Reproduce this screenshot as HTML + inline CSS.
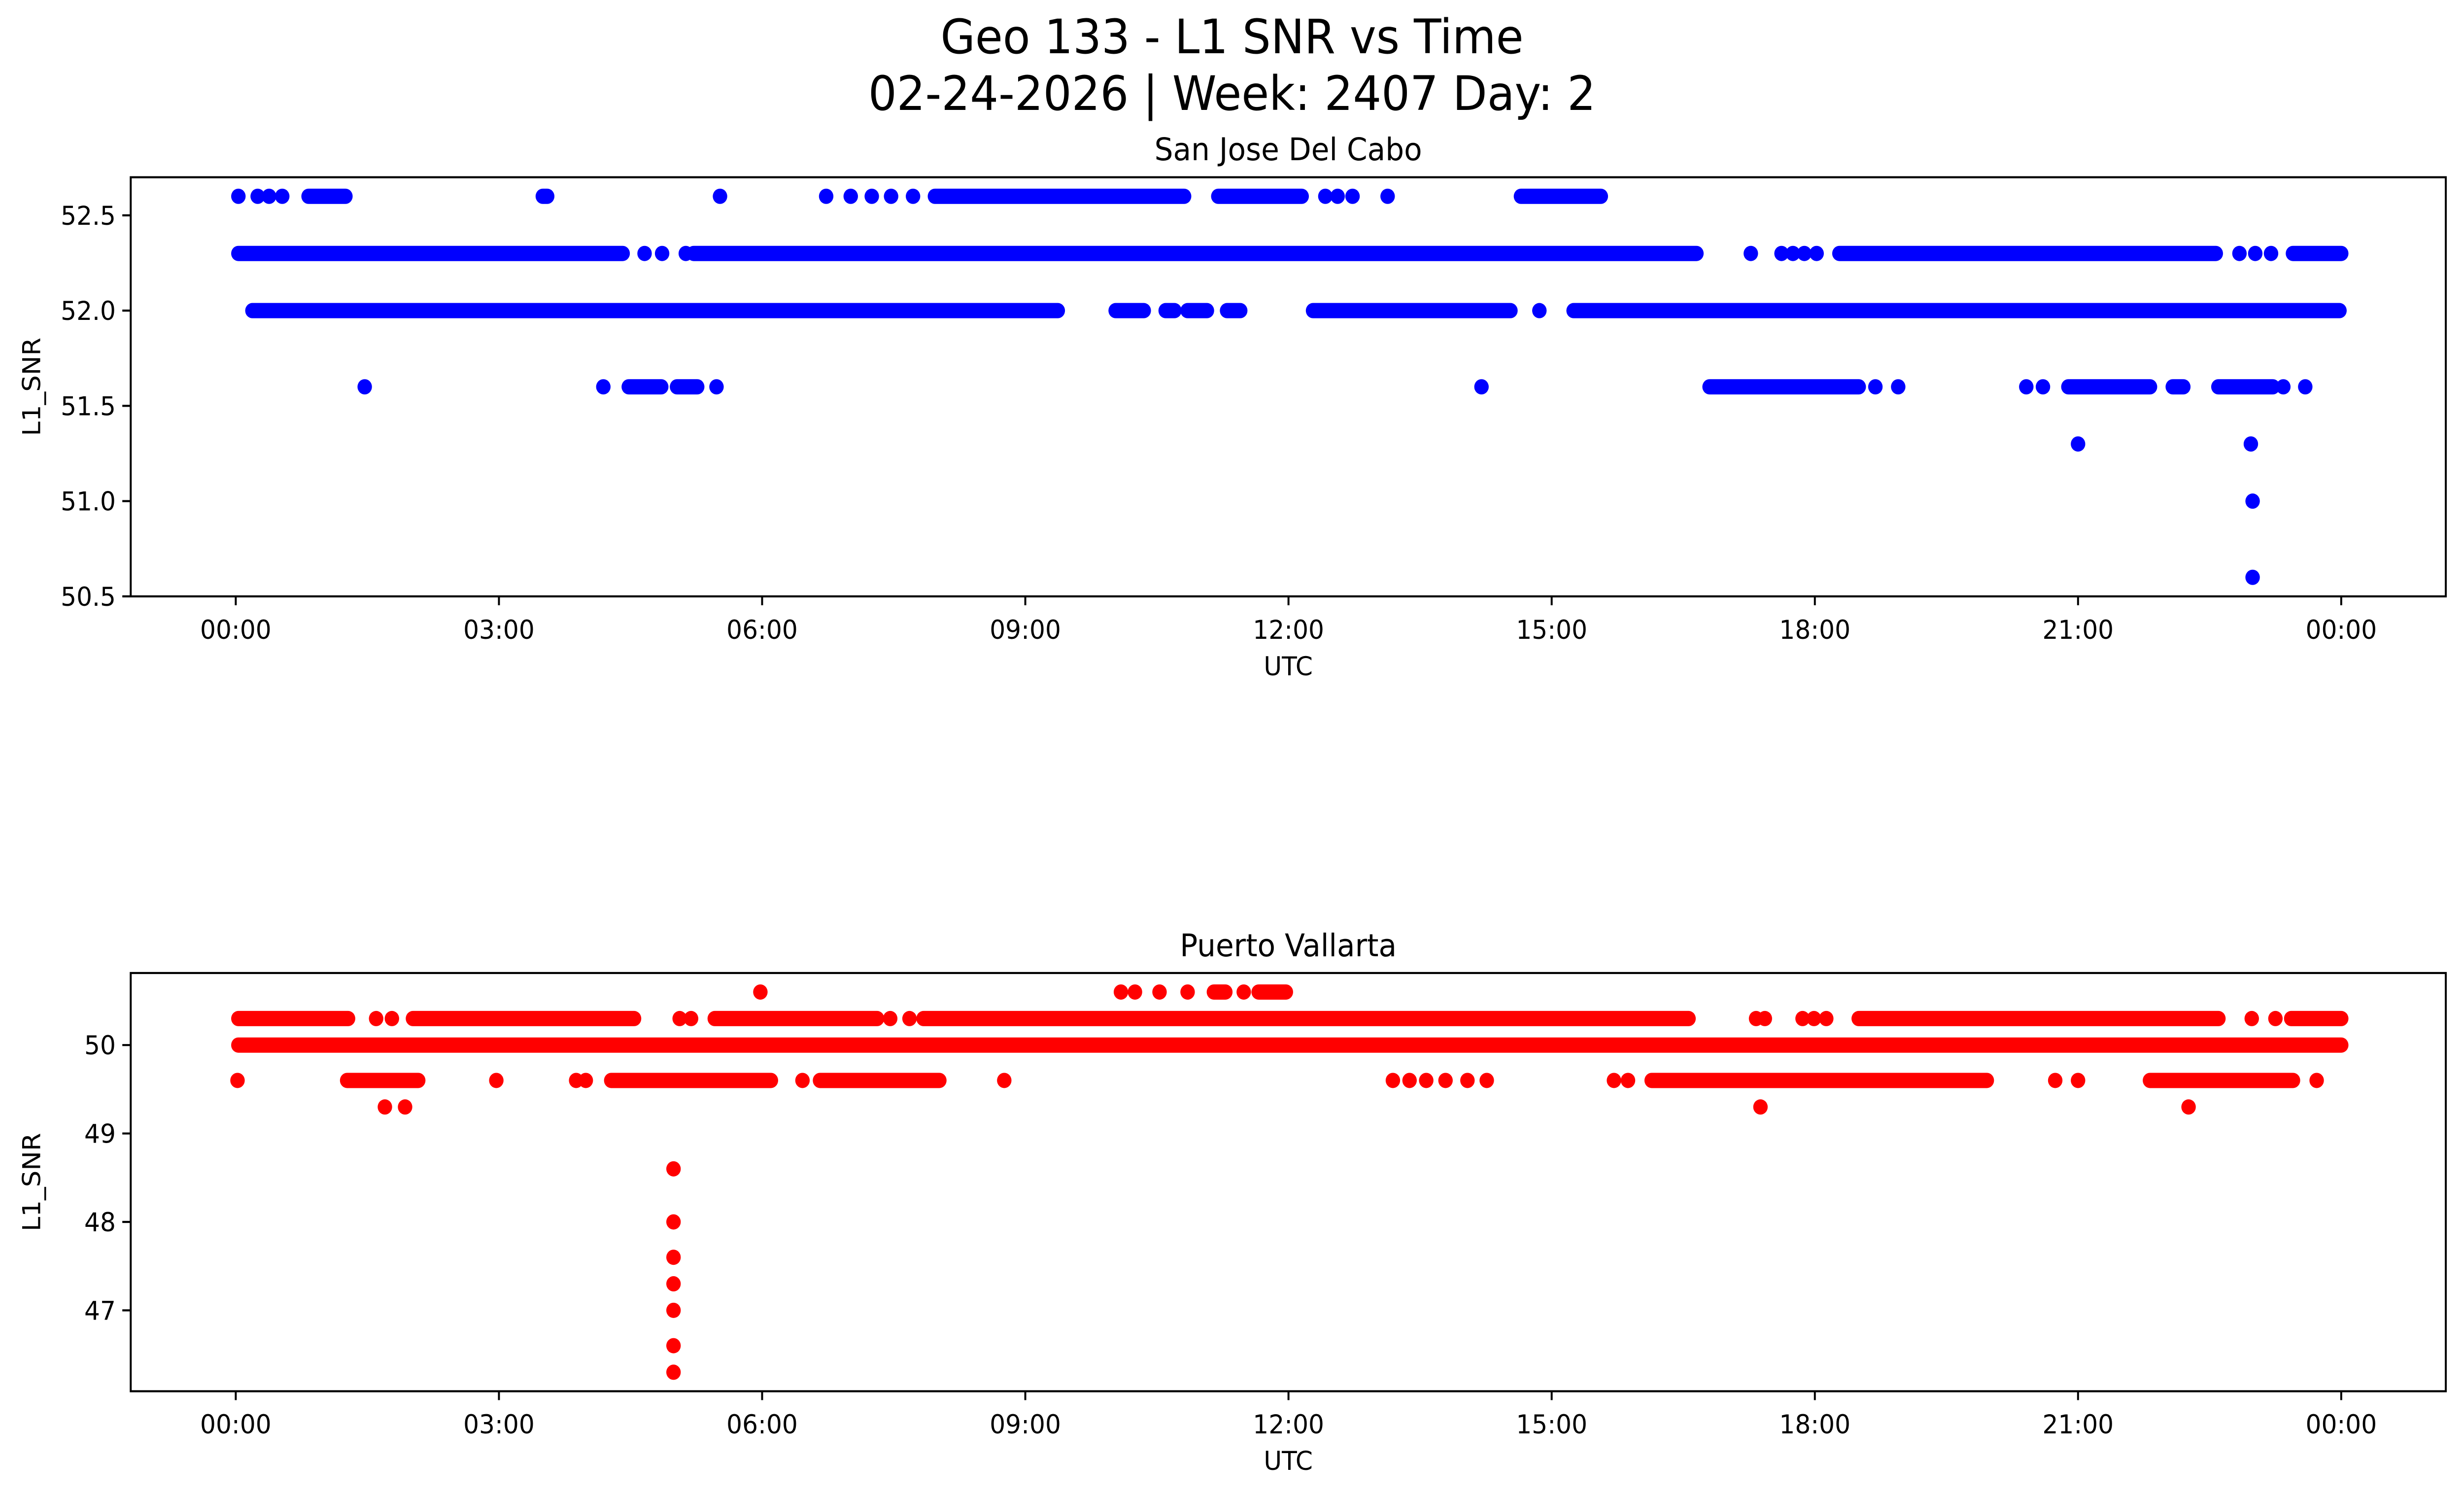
<!DOCTYPE html>
<html><head><meta charset="utf-8"><style>
html,body{margin:0;padding:0;background:#fff;overflow:hidden;width:100%;height:100%}
svg{display:block;position:fixed;left:0;top:0;width:100vw;height:100vh}
text{font-family:"DejaVu Sans","Liberation Sans",sans-serif;fill:#000}
</style></head><body>
<svg id="fig" viewBox="0 0 5278 3033" preserveAspectRatio="none" xmlns="http://www.w3.org/2000/svg">
<rect width="5278" height="3033" fill="#fff"/>
<text x="2639" y="108" font-size="96" text-anchor="middle">Geo 133 - L1 SNR vs Time</text>
<text x="2639" y="223" font-size="96" text-anchor="middle">02-24-2026 | Week: 2407 Day: 2</text>
<g id="top"></g>
<g id="bot"></g>
</svg>
<script>
const xTickLabels = ["00:00","03:00","06:00","09:00","12:00","15:00","18:00","21:00","00:00"];
const xTickHours = [0,3,6,9,12,15,18,21,24];

const topLevels = [52.6, 52.3, 52.0, 51.6, 51.3, 51.0, 50.6];
const topRuns = [
  [[0.03,0.03],[0.25,0.25],[0.38,0.38],[0.53,0.53],[0.83,1.25],[3.5,3.55],[5.52,5.52],[6.73,6.73],[7.01,7.01],[7.25,7.25],[7.47,7.47],[7.72,7.72],[7.97,10.81],[11.2,12.15],[12.42,12.42],[12.56,12.56],[12.73,12.73],[13.13,13.13],[14.65,15.56]],
  [[0.03,4.41],[4.66,4.66],[4.86,4.86],[5.13,5.13],[5.22,16.65],[17.27,17.27],[17.62,17.62],[17.75,17.75],[17.88,17.88],[18.02,18.02],[18.28,22.57],[22.84,22.84],[23.02,23.02],[23.2,23.2],[23.45,24.0]],
  [[0.19,9.37],[10.03,10.35],[10.6,10.7],[10.85,11.07],[11.3,11.45],[12.28,14.53],[14.86,14.86],[15.25,23.98]],
  [[1.47,1.47],[4.19,4.19],[4.48,4.85],[5.03,5.26],[5.48,5.48],[14.2,14.2],[16.8,18.5],[18.69,18.69],[18.95,18.95],[20.41,20.41],[20.6,20.6],[20.89,21.82],[22.08,22.2],[22.6,23.22],[23.34,23.34],[23.59,23.59]],
  [[21.0,21.0],[22.97,22.97]],
  [[22.99,22.99]],
  [[22.99,22.99]]
];
const topYTicks = [50.5, 51.0, 51.5, 52.0, 52.5];
const topYTickLabels = ["50.5","51.0","51.5","52.0","52.5"];

const botLevels = [50.6, 50.3, 50.0, 49.6, 49.3, 48.6, 48.0, 47.6, 47.3, 47.0, 46.6, 46.3];
const botRuns = [
  [[5.98,5.98],[10.09,10.09],[10.25,10.25],[10.53,10.53],[10.85,10.85],[11.15,11.28],[11.49,11.49],[11.66,11.97]],
  [[0.03,1.28],[1.6,1.6],[1.78,1.78],[2.02,4.54],[5.06,5.06],[5.19,5.19],[5.46,7.31],[7.46,7.46],[7.68,7.68],[7.84,16.56],[17.33,17.33],[17.43,17.43],[17.86,17.86],[17.99,17.99],[18.13,18.13],[18.5,22.6],[22.98,22.98],[23.25,23.25],[23.43,24.0]],
  [[0.03,24.0]],
  [[0.02,0.02],[1.27,2.08],[2.97,2.97],[3.88,3.88],[3.99,3.99],[4.28,6.1],[6.46,6.46],[6.66,8.02],[8.76,8.76],[13.19,13.19],[13.38,13.38],[13.57,13.57],[13.79,13.79],[14.04,14.04],[14.26,14.26],[15.71,15.71],[15.87,15.87],[16.14,19.96],[20.74,20.74],[21.0,21.0],[21.82,23.45],[23.72,23.72]],
  [[1.7,1.7],[1.93,1.93],[17.38,17.38],[22.26,22.26]],
  [[4.99,4.99]],[[4.99,4.99]],[[4.99,4.99]],[[4.99,4.99]],[[4.99,4.99]],[[4.99,4.99]],[[4.99,4.99]]
];
const botYTicks = [47, 48, 49, 50];
const botYTickLabels = ["47","48","49","50"];

const NS = "http://www.w3.org/2000/svg";
function mk(tag, attrs, parent){
  const e = document.createElementNS(NS, tag);
  for (const k in attrs) e.setAttribute(k, attrs[k]);
  parent.appendChild(e);
  return e;
}
const L = 280, R = 5239;
const x0 = 505, pxPerHour = (5015 - 505) / 24;
function xScale(h){ return x0 + h * pxPerHour; }

function panel(g, top, bottom, ymin, ymax, levels, runs, yticks, ylabels, color, title, titleY, tickY, utcY){
  const yScale = v => bottom - (v - ymin) / (ymax - ymin) * (bottom - top);
  const sub = mk('text', {x: (L+R)/2, y: titleY, 'font-size': 63, 'text-anchor':'middle'}, g);
  
  
  sub.textContent = title;
  const pts = mk('g', {}, g);
  
  
  levels.forEach((lv, i) => {
    runs[i].forEach(r => {
      const y = yScale(lv);
      let m;
      if (r[0] === r[1]) {
        m = mk('ellipse', {cx: xScale(r[0]), cy: y, rx: 15.5, ry: 15.5, fill: color}, pts);
      } else {
        m = mk('line', {x1: xScale(r[0]), x2: xScale(r[1]), y1: y, y2: y, stroke: color, 'stroke-width': 31, 'stroke-linecap': 'round'}, pts);
      }
      
      
    });
  });
  const frame = mk('rect', {x: L, y: top, width: R - L, height: bottom - top, fill: 'none', stroke: '#000', 'stroke-width': 4.2}, g);
  
  
  xTickHours.forEach((h, i) => {
    const x = xScale(h);
    const t = mk('line', {x1: x, x2: x, y1: bottom, y2: bottom + 18, stroke: '#000', 'stroke-width': 4.2}, g);
    
    
    const tl = mk('text', {x: x, y: tickY, 'font-size': 53, 'text-anchor': 'middle'}, g);
    
    
    tl.textContent = xTickLabels[i];
  });
  yticks.forEach((v, i) => {
    const y = yScale(v);
    const t = mk('line', {x1: L - 18, x2: L, y1: y, y2: y, stroke: '#000', 'stroke-width': 4.2}, g);
    
    
    const tl = mk('text', {x: L - 32, y: y + 19, 'font-size': 53, 'text-anchor': 'end'}, g);
    
    
    tl.textContent = ylabels[i];
  });
  const xl = mk('text', {x: (L+R)/2, y: utcY, 'font-size': 53, 'text-anchor': 'middle'}, g);
  
  
  xl.textContent = 'UTC';
  const cy = (top + bottom) / 2;
  const yl = mk('text', {x: 0, y: 0, 'font-size': 53, 'text-anchor': 'middle', transform: `translate(86,${cy}) rotate(-90)`}, g);
  
  
  yl.textContent = 'L1_SNR';
}

panel(document.getElementById('top'), 359.6, 1209.9, 50.5, 52.7, topLevels, topRuns, topYTicks, topYTickLabels, '#0000ff', 'San Jose Del Cabo', 325, 1296, 1370);
panel(document.getElementById('bot'), 1974, 2822.5, 46.085, 50.815, botLevels, botRuns, botYTicks, botYTickLabels, '#ff0000', 'Puerto Vallarta', 1940, 2908, 2982);
</script>
</body></html>
